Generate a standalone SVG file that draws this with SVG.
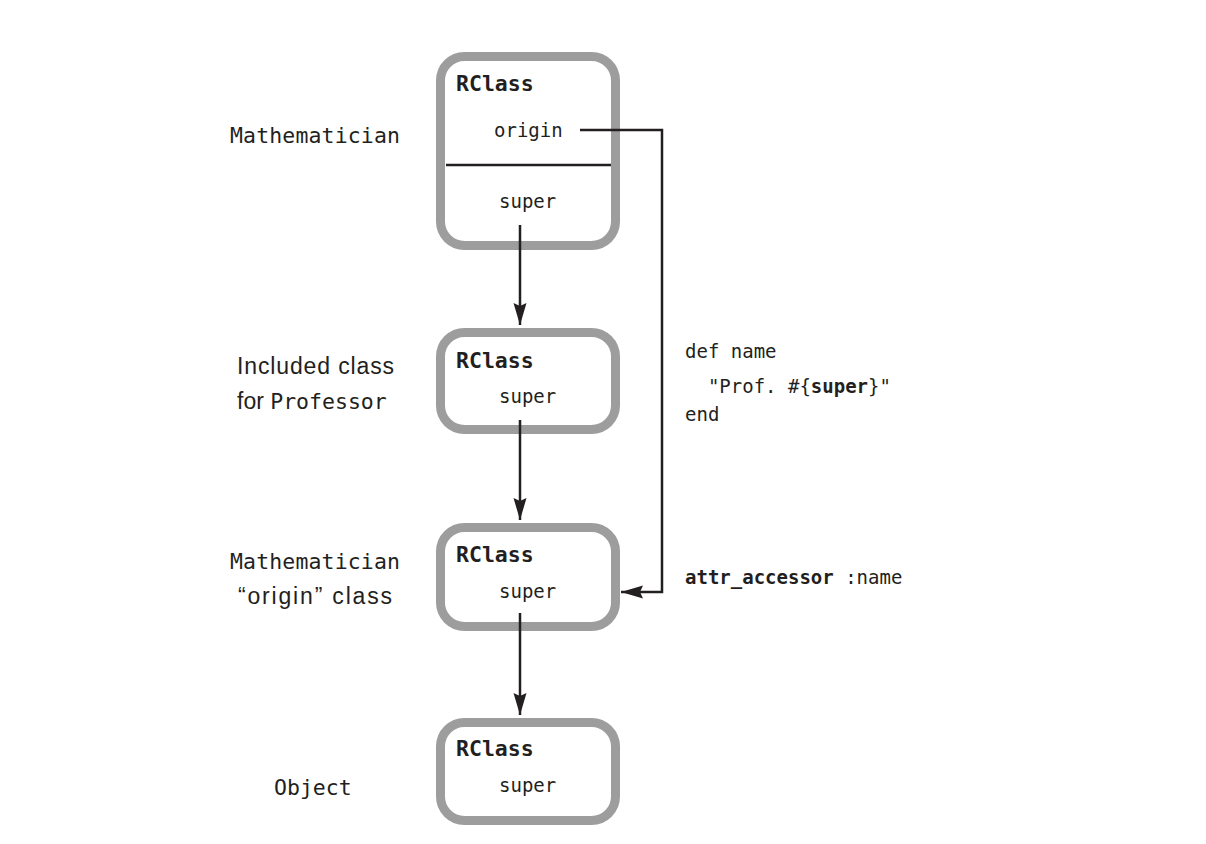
<svg xmlns="http://www.w3.org/2000/svg" width="1206" height="844" viewBox="0 0 1206 844">
<style>
.box{fill:#fff;stroke:#9d9d9d;stroke-width:9}
.mono{font-family:"DejaVu Sans Mono","Liberation Mono",monospace;fill:#231f20}
.t{font-size:21.5px;font-weight:bold}
.f{font-size:19px}
.lab{font-size:21.5px}
.sans{font-family:"Liberation Sans","Open Sans",sans-serif;font-size:23px;fill:#231f20}
.ln{fill:none;stroke:#231f20;stroke-width:2.5}
</style>
<defs>
<marker id="ah" markerWidth="22" markerHeight="14" refX="22" refY="7" orient="auto" markerUnits="userSpaceOnUse">
<path d="M0,0.5 L22,7 L0,13.5 L3,7 Z" fill="#231f20"/>
</marker>
</defs>
<rect width="1206" height="844" fill="#fff"/>
<g id="labels">
<text class="mono lab" x="230" y="143" textLength="170">Mathematician</text>
<text class="sans" x="237" y="374" textLength="157">Included class</text>
<text x="237" y="409"><tspan class="sans">for </tspan><tspan class="mono lab">Professor</tspan></text>
<text class="mono lab" x="230" y="569" textLength="170">Mathematician</text>
<text class="sans" x="238" y="604" textLength="154">“origin” class</text>
<text class="mono lab" x="274" y="795">Object</text>
</g>
<g id="node1">
<rect class="box" x="440.5" y="56.5" width="175" height="189" rx="24"/>
<line x1="446" y1="165" x2="611" y2="165" stroke="#231f20" stroke-width="2.5"/>
<text class="mono t" x="456" y="91">RClass</text>
<text class="mono f" x="494" y="137">origin</text>
<text class="mono f" x="499" y="208">super</text>
</g>
<g id="node2">
<rect class="box" x="440.5" y="332.5" width="175" height="97" rx="24"/>
<text class="mono t" x="456" y="368">RClass</text>
<text class="mono f" x="499" y="403">super</text>
</g>
<g id="node3">
<rect class="box" x="440.5" y="527.5" width="175" height="99" rx="24"/>
<text class="mono t" x="456" y="562">RClass</text>
<text class="mono f" x="499" y="598">super</text>
</g>
<g id="node4">
<rect class="box" x="440.5" y="722.5" width="175" height="98" rx="24"/>
<text class="mono t" x="456" y="756">RClass</text>
<text class="mono f" x="499" y="792">super</text>
</g>
<g id="code">
<text class="mono f" x="685" y="358">def name</text>
<text class="mono f" x="685" y="393" xml:space="preserve">  "Prof. #{<tspan font-weight="bold">super</tspan>}"</text>
<text class="mono f" x="685" y="421">end</text>
<text class="mono f" x="685" y="584"><tspan font-weight="bold">attr_accessor</tspan> :name</text>
</g>
<g id="connectors">
<line class="ln" x1="520" y1="225" x2="520" y2="325" marker-end="url(#ah)"/>
<line class="ln" x1="520" y1="420" x2="520" y2="520" marker-end="url(#ah)"/>
<line class="ln" x1="520" y1="613" x2="520" y2="715" marker-end="url(#ah)"/>
<polyline class="ln" points="580,130 662,130 662,592 621,592" marker-end="url(#ah)"/>
</g>
</svg>
